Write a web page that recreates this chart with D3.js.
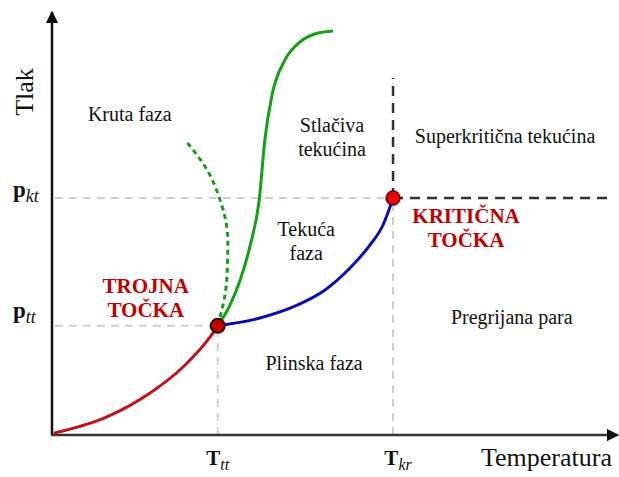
<!DOCTYPE html>
<html>
<head>
<meta charset="utf-8">
<script src="https://cdn.jsdelivr.net/npm/d3@7"></script>
<style>
  body { margin: 0; background: #fff; }
</style>
</head>
<body>
<div id="chart"></div>
<script>
// Data (abstract units, T and p on 0..100)
var triple = [29.6, 26];
var critical = [60.9, 56.4];
var sublimation = [[0.3, 0.4], [9.8, 4.3], [17.5, 10], [23.4, 16.2], [28.2, 23.3], [29.6, 26]];
var vaporization = [[29.6, 26], [37.14, 27.86], [43.04, 30.48], [48.75, 34.52], [53.21, 39.76], [56.79, 45.24], [59.11, 50], [60.9, 56.4]];
var melting = [[29.6, 26], [31.8, 31], [33.6, 36.9], [35.4, 45.2], [37, 56], [38, 70.2], [39.3, 81], [41.6, 89.3], [44.3, 93.6], [47.5, 95.7], [50.2, 96.2]];
var meltingAnomalous = [[29.6, 26], [31.2, 36.9], [31.4, 46.4], [30, 56], [27.7, 63.1], [23.8, 70.2]];
var regionLabels = [
  { lines: ["Kruta faza"], at: [13.9, 74.8] },
  { lines: ["Stlačiva", "tekućina"], at: [50, 72.1] },
  { lines: ["Superkritična tekućina"], at: [80.9, 69.5] },
  { lines: ["Tekuća", "faza"], at: [45.4, 47.4] },
  { lines: ["Pregrijana para"], at: [82.1, 26.4] },
  { lines: ["Plinska faza"], at: [46.8, 15.5] }
];

var W = 619, H = 477;
var SERIF = "'Liberation Serif', 'DejaVu Serif', serif";
var x = d3.scaleLinear().domain([0, 100]).range([52, 612]);
var y = d3.scaleLinear().domain([0, 100]).range([435, 15]);

var svg = d3.select("#chart").append("svg")
  .attr("width", W).attr("height", H)
  .attr("font-family", SERIF)
  .style("font-family", SERIF);

// guide lines to the axes
var gray = { stroke: "#d0d0d0", w: 2, dash: "8,6" };
function dashed(x1, y1, x2, y2, st) {
  svg.append("line")
    .attr("x1", x(x1)).attr("y1", y(y1)).attr("x2", x(x2)).attr("y2", y(y2))
    .attr("stroke", st.stroke).attr("stroke-width", st.w)
    .attr("stroke-dasharray", st.dash);
}
dashed(0.5, critical[1], critical[0], critical[1], gray);
dashed(0.5, triple[1], triple[0], triple[1], gray);
dashed(triple[0], 0, triple[0], triple[1], gray);
dashed(critical[0], 0, critical[0], critical[1], gray);
var dark = { stroke: "#333", w: 2.5, dash: "10,7" };
dashed(critical[0], critical[1], 99.6, critical[1], dark);
dashed(critical[0], critical[1], critical[0], 85, dark);

// axes with arrows
svg.append("defs").append("marker")
  .attr("id", "arr").attr("viewBox", "0 0 10 10")
  .attr("refX", 9).attr("refY", 5)
  .attr("markerWidth", 5).attr("markerHeight", 5)
  .attr("orient", "auto")
  .append("path").attr("d", "M0,0 L10,5 L0,10 z").attr("fill", "#111");
svg.append("line")
  .attr("x1", x(0)).attr("y1", y(0)).attr("x2", x(0)).attr("y2", 12)
  .attr("stroke", "#111").attr("stroke-width", 2.5).attr("marker-end", "url(#arr)");
svg.append("line")
  .attr("x1", x(0) - 1).attr("y1", y(0)).attr("x2", 618).attr("y2", y(0))
  .attr("stroke", "#333").attr("stroke-width", 2.5).attr("marker-end", "url(#arr)");

// phase boundaries
function curve(data, color, shape, dash) {
  var line = d3.line()
    .x(function(d) { return x(d[0]); })
    .y(function(d) { return y(d[1]); })
    .curve(shape);
  svg.append("path").attr("d", line(data))
    .attr("fill", "none").attr("stroke", color).attr("stroke-width", 3)
    .attr("stroke-dasharray", dash || null);
}
curve(sublimation, "#c0141c", d3.curveMonotoneX);
curve(vaporization, "#0a0ab4", d3.curveMonotoneX);
curve(melting, "#14a014", d3.curveMonotoneX);
curve(meltingAnomalous, "#14a014", d3.curveMonotoneY, "5,4");

// points
svg.append("circle").attr("cx", x(triple[0])).attr("cy", y(triple[1])).attr("r", 7)
  .attr("fill", "#c00000").attr("stroke", "#3a0000").attr("stroke-width", 2);
svg.append("circle").attr("cx", x(critical[0])).attr("cy", y(critical[1])).attr("r", 7)
  .attr("fill", "#e60000").attr("stroke", "#6a0000").attr("stroke-width", 1.5);

// region labels
regionLabels.forEach(function(r) {
  var t = svg.append("text").attr("text-anchor", "middle").attr("font-size", 20)
    .attr("fill", "#111")
    .attr("x", x(r.at[0])).attr("y", y(r.at[1]));
  r.lines.forEach(function(s, i) {
    t.append("tspan").attr("x", x(r.at[0])).attr("dy", i ? 24 : 0).text(s);
  });
});

// point labels
function twoLine(a, b, cx, cy) {
  var t = svg.append("text").attr("text-anchor", "middle")
    .attr("fill", "#c00000").attr("font-weight", "bold").attr("font-size", 21);
  t.append("tspan").attr("x", cx).attr("y", cy).text(a);
  t.append("tspan").attr("x", cx).attr("y", cy + 24).text(b);
}
twoLine("TROJNA", "TOČKA", x(triple[0]) - 72, y(triple[1]) - 33);
twoLine("KRITIČNA", "TOČKA", x(critical[0]) + 73, y(critical[1]) + 25);

// axis symbols
function sym(main, sub, px, py, anchor, big, small) {
  var t = svg.append("text").attr("x", px).attr("y", py).attr("text-anchor", anchor)
    .attr("fill", "#111");
  t.append("tspan").attr("font-weight", "bold").attr("font-size", big).text(main);
  t.append("tspan").attr("font-style", "italic").attr("font-size", small).attr("dy", 5).text(sub);
}
sym("p", "kt", 13, y(critical[1]) - 1, "start", 23, 18);
sym("p", "tt", 13, y(triple[1]) - 8, "start", 23, 18);
sym("T", "tt", x(triple[0]), 465, "middle", 21, 16);
sym("T", "kr", x(critical[0]) + 5, 465, "middle", 21, 16);

svg.append("text").attr("x", 612).attr("y", 466).attr("text-anchor", "end")
  .attr("font-size", 26).attr("fill", "#111").text("Temperatura");
svg.append("text").attr("transform", "translate(33,92) rotate(-90)")
  .attr("text-anchor", "middle").attr("font-size", 26).attr("fill", "#111").text("Tlak");
</script>
</body>
</html>
